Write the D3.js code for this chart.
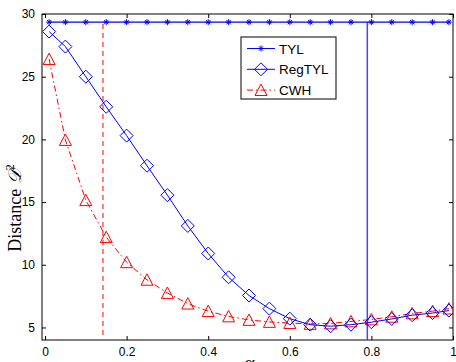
<!DOCTYPE html>
<html>
<head>
<meta charset="utf-8">
<script src="https://cdn.jsdelivr.net/npm/d3@7"></script>
<style>
  body { margin: 0; background: #fff; }
  svg text { font-family: "Liberation Sans", Arial, sans-serif; }
</style>
</head>
<body>
<div id="chart"></div>
<script>
// alpha values and the three series
const alphas = [0.01, 0.05, 0.1, 0.15, 0.2, 0.25, 0.3, 0.35, 0.4, 0.45, 0.5,
                0.55, 0.6, 0.65, 0.7, 0.75, 0.8, 0.85, 0.9, 0.95, 0.99];
const tyl = alphas.map(() => 29.35);
const regTyl = [28.6, 27.4, 25.0, 22.6, 20.3, 17.9, 15.55, 13.1, 10.9, 9.0, 7.55,
                6.5, 5.7, 5.22, 5.1, 5.22, 5.42, 5.68, 5.98, 6.15, 6.35];
const cwh = [26.4, 19.95, 15.15, 12.2, 10.2, 8.8, 7.75, 6.9, 6.3, 5.88, 5.6,
             5.44, 5.35, 5.28, 5.32, 5.48, 5.64, 5.85, 6.12, 6.3, 6.5];
const xTicks = [0, 0.2, 0.4, 0.6, 0.8, 1];
const yTicks = [5, 10, 15, 20, 25, 30];
const vLines = [{x: 0.142, top: 29.2, color: '#f55', dash: '5,4'},
                {x: 0.79, top: 29.35, color: '#44f', dash: null}];
const legendItems = ['TYL', 'RegTYL', 'CWH'];

const w = 456, h = 362;
const mLeft = 42, mRight = 453, mTop = 14, mBottom = 340;

const svg = d3.select('#chart').append('svg')
  .attr('width', w).attr('height', h);

const x = d3.scaleLinear().domain([-0.0074, 1]).range([mLeft, mRight]);
const y = d3.scaleLinear().domain([4, 30]).range([mBottom, mTop]);

// clip for data
svg.append('clipPath').attr('id', 'clip')
  .append('rect').attr('x', mLeft).attr('y', mTop)
  .attr('width', mRight - mLeft).attr('height', mBottom - mTop);

// axes (ticks inward, box)
const tickLen = 4;
svg.append('g')
  .attr('transform', `translate(0,${mBottom})`)
  .call(d3.axisBottom(x).tickValues(xTicks).tickSize(-tickLen).tickPadding(7)
        .tickFormat(d3.format('')))
  .call(g => g.select('.domain').remove());
svg.append('g')
  .attr('transform', `translate(0,${mTop})`)
  .call(d3.axisTop(x).tickValues(xTicks).tickSize(-tickLen).tickFormat(''))
  .call(g => g.select('.domain').remove());
svg.append('g')
  .attr('transform', `translate(${mLeft},0)`)
  .call(d3.axisLeft(y).tickValues(yTicks).tickSize(-tickLen).tickPadding(7))
  .call(g => g.select('.domain').remove());
svg.append('g')
  .attr('transform', `translate(${mRight},0)`)
  .call(d3.axisRight(y).tickValues(yTicks).tickSize(-tickLen).tickFormat(''))
  .call(g => g.select('.domain').remove());
svg.selectAll('.tick text').attr('font-size', 12).attr('fill', '#000')
  .attr('font-family', '"Liberation Sans", Arial, sans-serif');
svg.selectAll('.tick line').attr('stroke', '#000');

svg.append('rect')
  .attr('x', mLeft).attr('y', mTop)
  .attr('width', mRight - mLeft).attr('height', mBottom - mTop)
  .attr('fill', 'none').attr('stroke', '#000').attr('stroke-width', 1);

const plot = svg.append('g').attr('clip-path', 'url(#clip)');

// vertical markers
plot.selectAll('.vline')
  .data(vLines).enter().append('line')
  .attr('x1', d => x(d.x)).attr('x2', d => x(d.x))
  .attr('y1', d => y(d.top)).attr('y2', mBottom)
  .attr('stroke', d => d.color).attr('stroke-width', 1.5)
  .attr('stroke-dasharray', d => d.dash);

const line = d3.line().x((d, i) => x(alphas[i])).y(d => y(d));

// CWH
plot.append('path').datum(cwh)
  .attr('d', line).attr('fill', 'none')
  .attr('stroke', '#f00').attr('stroke-width', 1)
  .attr('stroke-dasharray', '6,3,1.5,3');
// RegTYL
plot.append('path').datum(regTyl)
  .attr('d', line).attr('fill', 'none')
  .attr('stroke', '#00f').attr('stroke-width', 1);
// TYL
plot.append('path').datum(tyl)
  .attr('d', line).attr('fill', 'none')
  .attr('stroke', '#00f').attr('stroke-width', 1.2);

const diamond = s => `M0,${-s}L${s},0L0,${s}L${-s},0Z`;
const triangle = s => `M0,${-s}L${s},${s * 0.9}L${-s},${s * 0.9}Z`;
const star = s => `M${-s},0H${s}M0,${-s}V${s}M${-s * .7},${-s * .7}L${s * .7},${s * .7}M${-s * .7},${s * .7}L${s * .7},${-s * .7}`;

plot.selectAll('.tri').data(cwh).enter().append('path')
  .attr('transform', (d, i) => `translate(${x(alphas[i])},${y(d)})`)
  .attr('d', triangle(6)).attr('fill', 'none')
  .attr('stroke', '#f00').attr('stroke-width', 1);
plot.selectAll('.dia').data(regTyl).enter().append('path')
  .attr('transform', (d, i) => `translate(${x(alphas[i])},${y(d)})`)
  .attr('d', diamond(6.5)).attr('fill', 'none')
  .attr('stroke', '#00f').attr('stroke-width', 1);
plot.selectAll('.star').data(tyl).enter().append('path')
  .attr('transform', (d, i) => `translate(${x(alphas[i])},${y(d)})`)
  .attr('d', star(3)).attr('fill', 'none')
  .attr('stroke', '#00f').attr('stroke-width', 1);

// legend
const lg = svg.append('g').attr('transform', 'translate(241,37)');
lg.append('rect').attr('width', 95).attr('height', 62)
  .attr('fill', '#fff').attr('stroke', '#000').attr('stroke-width', 1);
const markerPaths = [star(3), diamond(6.5), triangle(6)];
const colors = ['#00f', '#00f', '#f00'];
const dashes = [null, null, '6,3,1.5,3'];
legendItems.forEach((name, i) => {
  const cy = 11.5 + i * 20.8;
  lg.append('line').attr('x1', 6).attr('x2', 34).attr('y1', cy).attr('y2', cy)
    .attr('stroke', colors[i]).attr('stroke-width', 1)
    .attr('stroke-dasharray', dashes[i]);
  lg.append('path').attr('transform', `translate(20,${cy})`)
    .attr('d', markerPaths[i]).attr('fill', 'none')
    .attr('stroke', colors[i]).attr('stroke-width', 1);
  lg.append('text').attr('x', 38).attr('y', cy + 5)
    .attr('font-size', 13.5).text(name);
});

// axis labels
svg.append('text')
  .attr('transform', 'translate(21,208) rotate(-90)')
  .attr('text-anchor', 'middle')
  .attr('font-size', 18)
  .style('font-family', '"Liberation Serif", "DejaVu Serif", serif')
  .html('Distance <tspan font-style="italic">𝒟</tspan><tspan dy="-7" font-size="12">2</tspan>');
svg.append('text')
  .attr('x', 249).attr('y', 370)
  .attr('text-anchor', 'middle')
  .style('font-family', '"Liberation Serif", "DejaVu Serif", serif')
  .attr('font-size', 20).attr('font-style', 'italic')
  .text('α');
</script>
</body>
</html>
